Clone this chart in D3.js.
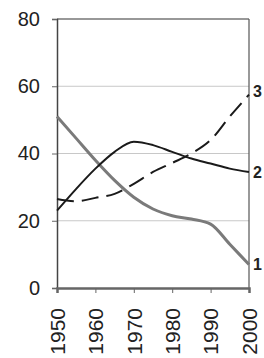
<!DOCTYPE html>
<html>
<head>
<meta charset="utf-8">
<script src="https://cdn.jsdelivr.net/npm/d3@7"></script>
<style>
  body { margin: 0; background: #fff; }
  svg text { font-family: "Liberation Sans", Arial, sans-serif; fill: #222; }
</style>
</head>
<body>
<svg id="chart" width="264" height="358"></svg>
<script>
// Data
const years = [1950, 1955, 1960, 1965, 1970, 1975, 1980, 1985, 1990, 1995, 2000];
const series1 = [51, 44.5, 38, 32, 27, 23.5, 21.5, 20.5, 19, 13, 7];
const series2 = [23, 29.5, 35.5, 40.5, 43.5, 42.5, 40.5, 38.5, 37, 35.5, 34.5];
const series3 = [26.5, 25.8, 26.8, 28, 31, 34.5, 37.2, 40, 44, 51, 57.5];
const yTicks = [0, 20, 40, 60, 80];
const xTicks = [1950, 1960, 1970, 1980, 1990, 2000];
const seriesLabels = ['1', '2', '3'];

let svg = d3.select('#chart');
let m_left = 57, m_right = 249, m_top = 19, m_bottom = 288;

let x = d3.scaleLinear().domain([1950, 2000]).range([m_left, m_right]);
let y = d3.scaleLinear().domain([0, 80]).range([m_bottom, m_top]);

// gridlines
svg.append('g')
    .selectAll('line')
    .data(yTicks.filter(d => d > 0 && d < 80))
    .join('line')
    .attr('x1', m_left).attr('x2', m_right)
    .attr('y1', d => y(d)).attr('y2', d => y(d))
    .attr('stroke', '#c8c8c8')
    .attr('stroke-width', 1);

// frame
svg.append('line').attr('x1', m_left).attr('x2', m_right).attr('y1', y(80)).attr('y2', y(80))
    .attr('stroke', '#333').attr('stroke-width', 1.2);
svg.append('line').attr('x1', m_right).attr('x2', m_right).attr('y1', y(80)).attr('y2', y(0))
    .attr('stroke', '#555').attr('stroke-width', 1.2);

// y axis
let yAxis = svg.append('g')
    .attr('transform', 'translate(' + m_left + ',0)')
    .call(d3.axisLeft(y).tickValues(yTicks).tickSize(5).tickPadding(12));
yAxis.select('.domain').attr('stroke', '#444').attr('stroke-width', 1.5);
yAxis.selectAll('.tick line').attr('stroke', '#666');
yAxis.selectAll('text').style('font-size', '20px').attr('fill', '#222');

// x axis
let xAxis = svg.append('g')
    .attr('transform', 'translate(0,' + m_bottom + ')')
    .call(d3.axisBottom(x).tickValues(xTicks).tickFormat(d3.format('d')).tickSize(5).tickPadding(0));
xAxis.select('.domain').attr('stroke', '#666').attr('stroke-width', 2.5);
xAxis.selectAll('.tick line').attr('stroke', '#666');
xAxis.selectAll('text')
    .style('font-size', '21px')
    .attr('fill', '#222')
    .attr('text-anchor', 'end')
    .attr('dy', '0.35em')
    .attr('transform', 'translate(0,20) rotate(-90)')
    .attr('x', 0).attr('y', 0);

let line = d3.line()
    .x((d, i) => x(years[i]))
    .y(d => y(d))
    .curve(d3.curveMonotoneX);

svg.append('path').datum(series1)
    .attr('d', line).attr('fill', 'none')
    .attr('stroke', '#7a7a7a').attr('stroke-width', 3);

svg.append('path').datum(series2)
    .attr('d', line).attr('fill', 'none')
    .attr('stroke', '#1a1a1a').attr('stroke-width', 2);

svg.append('path').datum(series3)
    .attr('d', line).attr('fill', 'none')
    .attr('stroke', '#1a1a1a').attr('stroke-width', 2)
    .attr('stroke-dasharray', '17,8');

// series labels at the right end
let ends = [series1[series1.length - 1], series2[series2.length - 1], series3[series3.length - 1] + 1];
svg.append('g')
    .selectAll('text')
    .data(seriesLabels)
    .join('text')
    .attr('x', m_right + 4)
    .attr('y', (d, i) => y(ends[i]))
    .attr('dy', '0.35em')
    .style('font-size', '16px')
    .style('font-weight', 'bold')
    .text(d => d);
</script>
</body>
</html>
